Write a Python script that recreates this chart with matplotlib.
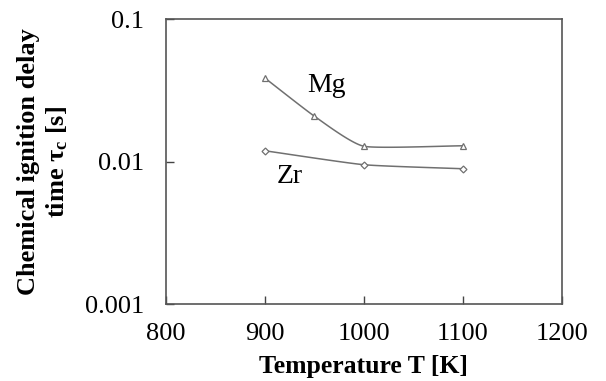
import numpy as np
import matplotlib.pyplot as plt

plt.rcParams['font.family'] = ['Liberation Serif', 'DejaVu Serif']
plt.rcParams['mathtext.fontset'] = 'custom'
plt.rcParams['mathtext.rm'] = 'Liberation Serif'
plt.rcParams['mathtext.bf'] = 'Liberation Serif:bold'

# data
mg_T = [900, 950, 1000, 1100]
mg_tau = [0.0385, 0.0208, 0.0128, 0.0129]
zr_T = [900, 1000, 1100]
zr_tau = [0.0119, 0.0095, 0.0089]


def smooth(x, y, n=30):
    # catmull-rom through the points, in (x, log y)
    x = np.asarray(x, float)
    y = np.log10(np.asarray(y, float))
    px = np.concatenate([[2 * x[0] - x[1]], x, [2 * x[-1] - x[-2]]])
    py = np.concatenate([[2 * y[0] - y[1]], y, [2 * y[-1] - y[-2]]])
    xs, ys = [], []
    for i in range(1, len(px) - 2):
        t = np.linspace(0, 1, n)
        for p, out in ((px, xs), (py, ys)):
            p0, p1, p2, p3 = p[i - 1], p[i], p[i + 1], p[i + 2]
            m1 = (p2 - p0) / 2 * 0.5
            m2 = (p3 - p1) / 2 * 0.5
            h00 = 2 * t**3 - 3 * t**2 + 1
            h10 = t**3 - 2 * t**2 + t
            h01 = -2 * t**3 + 3 * t**2
            h11 = t**3 - t**2
            out.extend(h00 * p1 + h10 * m1 + h01 * p2 + h11 * m2)
    return np.array(xs), 10 ** np.array(ys)


fig = plt.figure(figsize=(6.06, 3.81), dpi=100)
ax = fig.add_axes([0.274, 0.202, 0.653, 0.748])

lc = '#707070'
sx, sy = smooth(mg_T, mg_tau)
ax.plot(sx, sy, color=lc, lw=1.1)
ax.plot(mg_T, mg_tau, ls='none', marker='^', ms=5, mfc='white', mec=lc, mew=0.9)
sx, sy = smooth(zr_T, zr_tau)
ax.plot(sx, sy, color=lc, lw=1.1)
ax.plot(zr_T, zr_tau, ls='none', marker='D', ms=3.5, mfc='white', mec=lc, mew=0.9)

ax.text(962, 0.0344, 'Mg', fontsize=20, ha='center', va='center')
ax.text(925, 0.0078, 'Zr', fontsize=20, ha='center', va='center')

ax.set_yscale('log')
ax.set_xlim(800, 1200)
ax.set_ylim(0.001, 0.1)
ax.set_xticks([800, 900, 1000, 1100, 1200])
ax.set_yticks([0.001, 0.01, 0.1])
ax.set_yticklabels(['0.001', '0.01', '0.1'])
ax.yaxis.set_minor_locator(plt.NullLocator())
ax.tick_params(direction='in', labelsize=19, length=6, width=1, color='#444444')
ax.tick_params(axis='y', pad=16)
ax.tick_params(axis='x', pad=14)
for s in ax.spines.values():
    s.set_color('#555555')
    s.set_linewidth(1.2)

ax.set_xlabel('Temperature T [K]', fontsize=18.5, fontweight='bold')
ax.set_ylabel('Chemical ignition delay\ntime $\\mathbf{\\tau_c}$ [s]', fontsize=19,
              fontweight='bold', linespacing=1.25)
ax.xaxis.set_label_coords(0.5, -0.18)
ax.yaxis.set_label_coords(-0.242, 0.5)

fig.savefig('out.png', dpi=100)
